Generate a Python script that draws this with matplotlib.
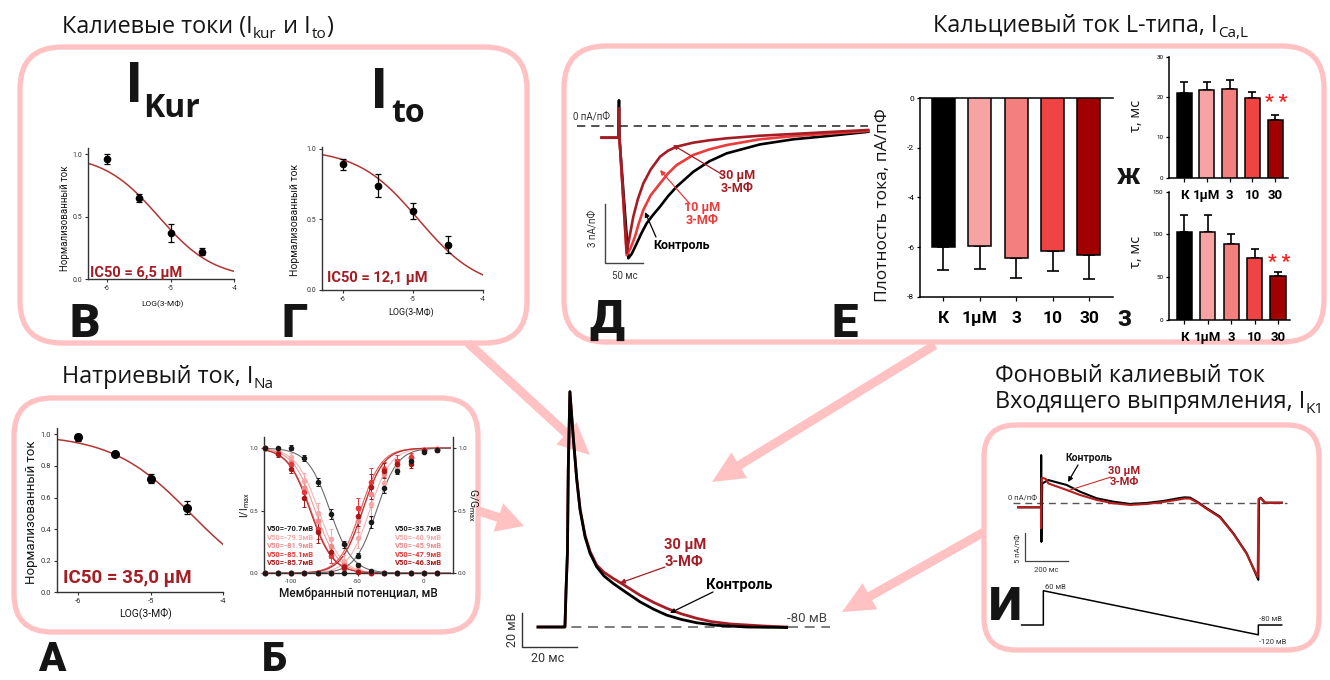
import numpy as np
import matplotlib
matplotlib.use("Agg")
import matplotlib.pyplot as plt
from matplotlib.patches import FancyBboxPatch, FancyArrow

plt.rcParams['font.family'] = ['Roboto', 'DejaVu Sans']
plt.rcParams['axes.unicode_minus'] = False
plt.rcParams['mathtext.fontset'] = 'custom'
plt.rcParams['mathtext.rm'] = 'Roboto'
plt.rcParams['mathtext.it'] = 'Roboto:italic'
plt.rcParams['mathtext.bf'] = 'Roboto:bold'

# ======================= DATA =======================
# concentration-response curves (log10 of [3-МФ], M)
dose_log = [-6.0, -5.5, -5.0, -4.5]
kur_val = [0.96, 0.65, 0.37, 0.22]
kur_err = [0.04, 0.03, 0.07, 0.03]
kur_ic50_uM = 6.5
kur_hill = 1.0
to_val = [0.89, 0.74, 0.56, 0.32]
to_err = [0.04, 0.08, 0.06, 0.06]
to_ic50_uM = 12.1
to_hill = 1.0
na_val = [0.98, 0.875, 0.72, 0.535]
na_err = [0.02, 0.015, 0.03, 0.04]
na_ic50_uM = 35.0
na_hill = 0.8

# Panel Б: steady-state inactivation / activation of I_Na
b_volt = [-120, -110, -100, -90, -80, -70, -60, -50, -40, -30, -20, -10, 0, 10]
b_groups = ['Контроль', '1 µM', '3 µM', '10 µM', '30 µM']
b_inact = [
    [1.00, 1.00, 1.00, 0.92, 0.73, 0.47, 0.23, 0.07, 0.02, 0, 0, 0, 0, 0],
    [1.00, 0.98, 0.93, 0.74, 0.48, 0.27, 0.10, 0.03, 0.01, 0, 0, 0, 0, 0],
    [1.00, 0.97, 0.89, 0.68, 0.42, 0.22, 0.07, 0.02, 0.00, 0, 0, 0, 0, 0],
    [1.00, 0.96, 0.87, 0.65, 0.35, 0.14, 0.04, 0.01, 0.00, 0, 0, 0, 0, 0],
    [1.00, 0.95, 0.83, 0.60, 0.33, 0.17, 0.05, 0.01, 0.00, 0, 0, 0, 0, 0],
]
b_inact_err = [
    [0, 0, 0.02, 0.02, 0.03, 0.04, 0.03, 0.01, 0, 0, 0, 0, 0, 0],
    [0, 0.02, 0.03, 0.06, 0.08, 0.08, 0.05, 0.02, 0, 0, 0, 0, 0, 0],
    [0, 0.02, 0.03, 0.05, 0.07, 0.07, 0.04, 0.02, 0, 0, 0, 0, 0, 0],
    [0, 0.02, 0.03, 0.05, 0.08, 0.06, 0.03, 0.01, 0, 0, 0, 0, 0, 0],
    [0, 0.02, 0.03, 0.07, 0.09, 0.05, 0.03, 0.01, 0, 0, 0, 0, 0, 0],
]
b_act = [
    [0, 0, 0, 0, 0, 0, 0.00, 0.14, 0.41, 0.68, 0.82, 0.90, 0.97, 0.98],
    [0, 0, 0, 0, 0, 0, 0.02, 0.28, 0.55, 0.72, 0.85, 0.92, 0.99, 0.99],
    [0, 0, 0, 0, 0, 0, 0.04, 0.42, 0.63, 0.79, 0.87, 0.92, 0.98, 0.99],
    [0, 0, 0, 0, 0, 0, 0.06, 0.52, 0.73, 0.83, 0.90, 0.93, 0.98, 0.99],
    [0, 0, 0, 0, 0, 0, 0.05, 0.46, 0.69, 0.82, 0.87, 0.87, 0.98, 0.98],
]
b_act_err = [
    [0, 0, 0, 0, 0, 0, 0, 0.02, 0.05, 0.04, 0.03, 0.03, 0.01, 0.01],
    [0, 0, 0, 0, 0, 0, 0.01, 0.08, 0.10, 0.07, 0.05, 0.03, 0.01, 0.01],
    [0, 0, 0, 0, 0, 0, 0.01, 0.09, 0.10, 0.07, 0.04, 0.03, 0.01, 0.01],
    [0, 0, 0, 0, 0, 0, 0.01, 0.08, 0.11, 0.06, 0.04, 0.03, 0.01, 0.01],
    [0, 0, 0, 0, 0, 0, 0.01, 0.08, 0.10, 0.06, 0.04, 0.03, 0.01, 0.01],
]
b_v50_inact = [-70.7, -79.3, -81.9, -85.1, -85.7]
b_v50_act = [-35.7, -40.9, -45.9, -47.9, -46.3]
b_slope_inact = 8.5
b_slope_act = 8.0

# Bar charts (I_Ca,L)
conc_labels = ['К', '1µM', '3', '10', '30']
dens_val = [-5.98, -5.94, -6.45, -6.14, -6.32]
dens_err = [0.94, 0.94, 0.78, 0.81, 0.98]
tau_fast_val = [21.1, 21.7, 22.1, 19.7, 14.2]
tau_fast_err = [2.7, 2.1, 2.1, 1.5, 1.4]
tau_slow_val = [102.5, 102.5, 88.4, 72.1, 51.4]
tau_slow_err = [20.2, 20.2, 11.7, 10.9, 4.3]

# Action potential (ms, mV)
ap_ctrl_t = [0, 9.8, 10.2, 10.7, 11.0, 11.6, 12.8, 14.1, 15.3, 17.1, 18.9, 21.3, 24.0, 27.3, 31.0,
             37.0, 42.0, 46.8, 52.0, 57.7, 65.0, 75.9, 90.4]
ap_ctrl_v = [-80, -80, -58, -36.6, 12.4, 58.4, 32, 6.5, -11.2, -26.9, -36.6, -44.5, -50.0, -54.3, -58.5,
             -65.1, -69.5, -73.0, -75.5, -77.5, -79.0, -80.0, -80.3]
ap_drug_t = [0, 9.8, 10.2, 10.7, 11.0, 11.6, 12.8, 14.1, 15.3, 17.1, 18.9, 21.3, 24.0, 27.3, 31.0,
             37.0, 42.0, 46.8, 52.0, 57.7, 63.0, 69.8, 81.9, 90.4]
ap_drug_v = [-80, -80, -58, -36.6, 12.4, 58.4, 32, 7.0, -10.5, -26.0, -35.5, -43.5, -47.8, -51.4, -55.0,
             -61.2, -65.5, -69.0, -72.2, -74.9, -76.8, -78.2, -79.4, -80.0]

# I_Ca,L traces (ms, pA/pF)
ca_ctrl_t = [-23, -1, 0, 0.6, 12.4, 17, 23.5, 30, 36.8, 45, 54.5, 65, 76.6, 98.7, 120, 143, 187, 231.5, 275.8, 331]
ca_ctrl_i = [-0.59, -0.59, 1.3, -0.6, -6.68, -6.45, -5.93, -5.4, -4.91, -4.5, -4.07, -3.55, -3.06, -2.31,
             -1.78, -1.38, -0.93, -0.67, -0.51, -0.29]
ca_10_t = [-23, -1, 0.6, 10.2, 15, 21.2, 26, 32.3, 42, 54.5, 65, 76.6, 98.7, 120, 143, 187, 231.5, 280, 331]
ca_10_i = [-0.59, -0.59, -0.6, -6.52, -6.2, -5.59, -4.95, -4.24, -3.5, -2.90, -2.4, -1.97, -1.46, -1.18,
           -0.96, -0.67, -0.51, -0.38, -0.25]
ca_30_t = [-23, -1, 0, 0.6, 10.2, 14, 19.0, 25, 32.3, 42, 54.5, 65, 76.6, 98.7, 120, 143, 187, 231.5, 280, 331]
ca_30_i = [-0.59, -0.59, 0.9, -0.6, -6.4, -5.6, -4.58, -3.7, -2.9, -2.2, -1.55, -1.25, -1.04, -0.84,
           -0.72, -0.62, -0.49, -0.40, -0.30, -0.20]

# I_K1 ramp traces (ms, pA/pF) and voltage protocol (ms, mV)
k1_ctrl_t = [-119, -14, -13, -12, -8, 20, 104.6, 166, 243, 320, 397, 474, 551, 628, 650, 674, 710, 751,
             812, 874, 935, 989, 992, 1000, 1020, 1097]
k1_ctrl_i = [-0.71, -0.71, 8.5, -6.8, 3.5, 4.1, 3.23, 2.05, 0.88, 0.29, -0.12, 0.06, 0.41, 0.94, 1.05, 1.0,
             0.2, -0.88, -2.35, -5.3, -8.8, -13.5, 0.6, 1.0, 0.1, 0.1]
k1_drug_t = [-119, -14, -13, -11, -9, 8, 20, 104.6, 166, 243, 320, 397, 474, 551, 628, 650, 674, 710, 751,
             812, 874, 935, 986, 990, 1000, 1020, 1097]
k1_drug_i = [-0.71, -0.71, -4.4, 4.4, 4.5, 4.3, 3.5, 2.35, 1.47, 0.59, 0.0, -0.29, -0.12, 0.23, 0.7, 0.85,
             0.82, 0.1, -1.0, -2.5, -5.4, -8.9, -13.0, 0.8, 0.9, 0.1, 0.1]
ramp_t = [-103, -3, -3, 989, 989, 1097]
ramp_v = [-80, -80, 60, -120, -80, -80]

# ======================= STYLE =======================
PINK = '#ffc1c1'
DARKRED = '#a51d24'
RED = '#ec3b3b'
FIT = '#b23434'
TXT = '#151515'
bar_colors = ['#000000', '#f7a3a3', '#f47f7f', '#ef4444', '#a00000']
b_colors = ['#1a1a1a', '#f5aaaa', '#f08a8a', '#e63a3a', '#a81818']
b_line_colors = ['#6a6a6a', '#f5b5b5', '#f09a9a', '#ea5a5a', '#b03030']
TITLE = ['Open Sans', 'DejaVu Sans']
COND = ['Liberation Sans Narrow', 'Roboto', 'DejaVu Sans']
REG = ['Roboto', 'DejaVu Sans']
TFS = 16.8

W, H = 1330, 680
fig = plt.figure(figsize=(W / 100, H / 100), dpi=100)
fig.patch.set_facecolor('white')
renderer = fig.canvas.get_renderer()


def px_axes(x0, y0, x1, y1, z=2):
    ax = fig.add_axes([x0 / W, 1 - y1 / H, (x1 - x0) / W, (y1 - y0) / H])
    ax.set_zorder(z)
    ax.patch.set_alpha(0)
    return ax


bg = px_axes(0, 0, W, H, z=0)
bg.set_xlim(0, W); bg.set_ylim(H, 0); bg.axis('off')
fg = px_axes(0, 0, W, H, z=10)
fg.set_xlim(0, W); fg.set_ylim(H, 0); fg.axis('off')

# ---------- pink frames and arrows ----------
frames = [(20, 47, 527, 343, 42), (564, 46, 1324, 342, 42),
          (14, 398, 478, 632, 38), (984, 425, 1319, 650, 32)]
for x0, y0, x1, y1, r in frames:
    bg.add_patch(FancyBboxPatch((x0, y0), x1 - x0, y1 - y0,
                                boxstyle=f'round,pad=0,rounding_size={r}',
                                fc='none', ec=PINK, lw=3.8))
arrows = [((468, 343), (590, 455), 32), ((935, 345), (712, 482), 32),
          ((479, 511), (524, 526), 27), ((984, 532), (842, 612), 32)]
for (xa, ya), (xb, yb), hl in arrows:
    bg.add_patch(FancyArrow(xa, ya, xb - xa, yb - ya, width=9, head_width=30,
                            head_length=hl, length_includes_head=True,
                            fc=PINK, ec='none'))


def T(x, y, s, size, **kw):
    kw.setdefault('color', TXT)
    return fg.text(x, y, s, fontsize=size, **kw)


def rich(x, y, pieces, color=TXT, family=TITLE, weight='normal'):
    for s, size, dy in pieces:
        t = fg.text(x, y + dy, s, fontsize=size, ha='left', va='baseline',
                    color=color, family=family, weight=weight)
        x = x + t.get_window_extent(renderer).width + 0.5


# ---------- titles ----------
rich(62, 33, [("Калиевые токи (I", TFS, 0), ("kur", 11, 5), (" и I", TFS, 0), ("to", 11, 5), (")", TFS, 0)])
rich(933, 32, [("Кальциевый ток L-типа, I", TFS, 0), ("Ca,L", 11, 5)])
rich(62, 383, [("Натриевый ток, I", TFS, 0), ("Na", 11, 5)])
T(995, 382, "Фоновый калиевый ток", TFS, family=TITLE, va='baseline')
rich(995, 408, [("Входящего выпрямления, I", TFS, 0), ("K1", 11, 5)])

# big current names
T(125, 102, "I", 40, family=TITLE, weight='bold', va='baseline')
T(143, 117, "Kur", 23, family=TITLE, weight='bold', va='baseline')
T(370, 108, "I", 40, family=TITLE, weight='bold', va='baseline')
T(391, 122, "to", 23, family=TITLE, weight='bold', va='baseline')

# panel letters
HEAVY = dict(family=REG, weight='black', va='baseline', ha='left')
for s, x, y, sz in [("В", 69, 337, 34), ("Г", 281, 337, 34), ("Д", 589, 333, 34),
                    ("Е", 831, 337, 34), ("Ж", 1117, 184, 16), ("З", 1117, 326, 16),
                    ("А", 38, 671, 29), ("Б", 262, 671, 29), ("И", 989, 620, 34)]:
    T(x, y, s, sz, **HEAVY)


# ---------- dose-response panels ----------
def dose_panel(box, val, err, ic50, hill, ytop, yticks, ms, fs_tick):
    ax = px_axes(*box)
    lo = -6.3
    xx = np.linspace(lo, -4, 200)
    yy = 1.0 / (1.0 + 10 ** (hill * (xx - np.log10(ic50 * 1e-6))))
    ax.plot(xx, yy, color=FIT, lw=1.1, zorder=2)
    ax.errorbar(dose_log, val, yerr=err, fmt='o', color='black', ms=ms,
                elinewidth=0.9, capsize=2.2, capthick=0.9, zorder=3)
    ax.set_xlim(lo, -4)
    ax.set_ylim(0, ytop)
    ax.set_xticks([-6, -5, -4])
    ax.set_xticklabels(['-6', '-5', '-4'])
    ax.set_yticks(yticks)
    ax.set_yticklabels([f'{v:.1f}' for v in yticks])
    for s in ['top', 'right']:
        ax.spines[s].set_visible(False)
    for s in ['left', 'bottom']:
        ax.spines[s].set_linewidth(1.0)
        ax.spines[s].set_color('#333333')
    ax.tick_params(labelsize=fs_tick, length=2.5, width=0.8, pad=1.5, colors='#333333')
    return ax


dose_panel((87.7, 148, 234.3, 279), kur_val, kur_err, kur_ic50_uM, kur_hill, 1.05, [0, 0.5, 1.0], 4.5, 5)
dose_panel((321.7, 146.7, 482.7, 290), to_val, to_err, to_ic50_uM, to_hill, 1.016, [0, 0.5, 1.0], 4.5, 5)
dose_panel((56.7, 428, 223.3, 592.3), na_val, na_err, na_ic50_uM, na_hill, 1.04,
           [0, 0.2, 0.4, 0.6, 0.8, 1.0], 5.5, 5.5)

T(65, 218, "Нормализованный ток", 7, rotation=90, ha='center', va='center', family=REG)
T(295, 220, "Нормализованный ток", 7.5, rotation=90, ha='center', va='center', family=REG)
T(32, 512, "Нормализованный ток", 9.5, rotation=90, ha='center', va='center', family=REG)
T(162, 304, "LOG(3-МФ)", 6, ha='center', va='center', family=REG)
T(411, 312, "LOG(3-МФ)", 6.5, ha='center', va='center', family=REG)
T(146, 613, "LOG(3-МФ)", 7.5, ha='center', va='center', family=REG)
T(90, 273, f"IC50 = {kur_ic50_uM:.1f} µM".replace('.', ','), 10.5, color=DARKRED,
  weight='bold', family=COND, va='center')
T(327, 278, f"IC50 = {to_ic50_uM:.1f} µM".replace('.', ','), 10.5, color=DARKRED,
  weight='bold', family=COND, va='center')
T(63, 578, f"IC50 = {na_ic50_uM:.1f} µM".replace('.', ','), 13.5, color=DARKRED,
  weight='bold', family=COND, va='center')

# ---------- Panel Б ----------
axb = px_axes(264, 436.7, 452.5, 573.3)
vv = np.linspace(-120, 20, 300)
for g in [1, 2, 3, 4, 0]:
    inact = 1.0 / (1.0 + np.exp((vv - b_v50_inact[g]) / b_slope_inact))
    act = 1.0 / (1.0 + np.exp((b_v50_act[g] - vv) / b_slope_act))
    axb.plot(vv, inact, color=b_line_colors[g], lw=0.8, zorder=2)
    axb.plot(vv, act, color=b_line_colors[g], lw=0.8, zorder=2)
    for vals, errs in [(b_inact[g], b_inact_err[g]), (b_act[g], b_act_err[g])]:
        axb.errorbar(b_volt, vals, yerr=errs, fmt='o', ms=3, color=b_colors[g],
                     elinewidth=0.7, capsize=1.5, capthick=0.7, zorder=3, clip_on=False)
axb.set_xlim(-120.5, 21.6)
axb.set_ylim(0, 1.09)
axb.set_xticks([-100, -50, 0])
axb.set_yticks([0, 0.5, 1.0])
axb.set_yticklabels(['0.0', '0.5', '1.0'])
axb.spines['top'].set_visible(False)
for s in ['left', 'right', 'bottom']:
    axb.spines[s].set_linewidth(1.0)
    axb.spines[s].set_color('#333333')
axb.tick_params(labelsize=4.5, length=2.5, width=0.8, pad=1.5, colors='#333333',
                right=True, labelright=True)
T(245, 505, r"I/I$_{\mathregular{max}}$", 7.5, rotation=90, ha='center', va='center')
T(473, 505, r"G/G$_{\mathregular{max}}$", 7.5, rotation=270, ha='center', va='center')
T(358, 594, "Мембранный потенциал, мВ", 8.5, ha='center', va='center', weight='medium')
rows_y = [528.3, 537.3, 546, 554.3, 562.7]
for g in range(5):
    T(266.5, rows_y[g], f"V50={b_v50_inact[g]:.1f}мВ", 5.5, color=b_colors[g],
      weight='bold', va='center', family=COND)
    T(395, rows_y[g], f"V50={b_v50_act[g]:.1f}мВ", 5.5, color=b_colors[g],
      weight='bold', va='center', family=COND)


# ---------- bar charts ----------
def bar_panel(box, vals, errs, width, xlim, ylim, yticks, down, capsize, xfs, yfs, xpad, spines):
    ax = px_axes(*box)
    x = np.arange(len(vals))
    zeros = [0] * len(vals)
    ax.bar(x, vals, width, color=bar_colors, edgecolor='black', linewidth=1.1, zorder=3)
    yerr = [errs, zeros] if down else [zeros, errs]
    ax.errorbar(x, vals, yerr=yerr, fmt='none', ecolor='black', elinewidth=1.2,
                capsize=capsize, capthick=1.2, zorder=2)
    ax.set_xlim(*xlim)
    ax.set_ylim(*ylim)
    ax.set_xticks(x)
    ax.set_xticklabels(conc_labels, fontsize=xfs, fontweight='bold', family=COND)
    ax.set_yticks(yticks)
    ax.set_yticklabels([str(v) for v in yticks])
    for s in ['top', 'right', 'left', 'bottom']:
        ax.spines[s].set_visible(s in spines)
        ax.spines[s].set_linewidth(1.1)
    ax.tick_params(axis='y', labelsize=yfs, length=2.5, width=0.9, pad=1.5)
    ax.tick_params(axis='x', length=3, width=0.9, pad=xpad, top=False)
    return ax


bar_panel((920, 98.3, 1113, 296.7), dens_val, dens_err, 0.63, (-0.64, 4.66), (-8, 0),
          [0, -2, -4, -6, -8], True, 4.5, 12.5, 6, 7, ['top', 'left', 'bottom'])
bar_panel((1169, 56.7, 1288, 177.7), tau_fast_val, tau_fast_err, 0.66, (-0.66, 4.57), (0, 30),
          [0, 10, 20, 30], False, 2.6, 9.5, 4.5, 5, ['left', 'bottom'])
bar_panel((1169, 191.7, 1290, 320), tau_slow_val, tau_slow_err, 0.64, (-0.64, 4.51), (0, 150),
          [0, 50, 100, 150], False, 2.6, 9.5, 4.5, 5, ['left', 'bottom'])
T(883, 205, "Плотность тока, пА/пФ", 12.5, rotation=90, ha='center', va='center', family=TITLE)
T(1136, 116, "τ, мс", 10.5, rotation=90, ha='center', va='center', family=TITLE)
T(1136, 252, "τ, мс", 10.5, rotation=90, ha='center', va='center', family=TITLE)
T(1276, 102, "* *", 14, color='#ff1a1a', weight='bold', ha='center', va='center', family=REG)
T(1279, 262, "* *", 14, color='#ff1a1a', weight='bold', ha='center', va='center', family=REG)

# ---------- Panel Д: I_Ca,L traces ----------
axD = px_axes(570, 90, 875, 285)
axD.set_xlim(-65.07, 339.97); axD.set_ylim(-8.03, 1.82); axD.axis('off')
axD.plot([-55.8, 330.7], [0, 0], color='#333333', lw=1.2, dashes=(5, 3.5))
axD.plot(ca_ctrl_t, ca_ctrl_i, color='black', lw=1.9, solid_joinstyle='round')
axD.plot(ca_10_t, ca_10_i, color=RED, lw=1.9, solid_joinstyle='round')
axD.plot(ca_30_t, ca_30_i, color=DARKRED, lw=1.9, solid_joinstyle='round')
axD.plot([-18.6, -18.6, 31.4], [-3.94, -6.94, -6.94], color='#444444', lw=1.0)
T(573, 117, "0 пА/пФ", 7, va='center', ha='left', color='#333333')
T(593, 228, "3 пА/пФ", 7, rotation=90, ha='center', va='center', color='#333333')
T(625, 276, "50 мс", 7, ha='center', va='center', color='#333333')
T(737, 176, "30 µM", 9, color=DARKRED, weight='bold', ha='center', va='center', family=COND)
T(737, 188, "3-МФ", 9, color=DARKRED, weight='bold', ha='center', va='center', family=COND)
T(702, 208, "10 µM", 9, color=RED, weight='bold', ha='center', va='center', family=COND)
T(702, 221, "3-МФ", 9, color=RED, weight='bold', ha='center', va='center', family=COND)
T(682, 246, "Контроль", 9, color='black', weight='bold', ha='center', va='center', family=COND)


def thin_arrow(tail, head, color):
    fg.annotate('', xy=head, xytext=tail,
                arrowprops=dict(arrowstyle='-|>', color=color, lw=0.9,
                                mutation_scale=7, shrinkA=0, shrinkB=0))


thin_arrow((723, 175), (673, 145), DARKRED)
thin_arrow((690, 204), (660, 170), RED)
thin_arrow((656, 237), (645, 212), 'black')

# ---------- Action potential ----------
axAP = px_axes(500, 380, 840, 670)
axAP.set_xlim(-13.82, 109.82); axAP.set_ylim(-105.29, 65.29); axAP.axis('off')
axAP.plot([0, 106.2], [-80, -80], color='#666666', lw=1.2, dashes=(6, 4))
axAP.plot(ap_drug_t, ap_drug_v, color=DARKRED, lw=2.0, solid_joinstyle='round')
axAP.plot(ap_ctrl_t, ap_ctrl_v, color='black', lw=2.0, solid_joinstyle='round')
axAP.plot([-5.8, -5.8, 14.2], [-71.8, -91.8, -91.8], color='#333333', lw=1.0)
T(512, 630, "20 мВ", 9, rotation=90, ha='center', va='center', color='#333333')
T(548, 658, "20 мс", 9, ha='center', va='center', color='#333333')
T(807, 618, "-80 мВ", 9.5, ha='center', va='center', color='#444444')
T(685, 545, "30 µM", 10.5, color=DARKRED, weight='bold', ha='center', va='center', family=COND)
T(684, 562, "3-МФ", 10.5, color=DARKRED, weight='bold', ha='center', va='center', family=COND)
T(739, 585, "Контроль", 10.5, color='black', weight='bold', ha='center', va='center', family=COND)
thin_arrow((665, 567), (620, 583), DARKRED)
thin_arrow((713, 592), (670, 613), 'black')

# ---------- Panel И: I_K1 ramp ----------
axK = px_axes(1000, 440, 1300, 600)
axK.set_xlim(-203.0, 1181.3); axK.set_ylim(-17.05, 11.16); axK.axis('off')
axK.plot([-143, 1121], [0, 0], color='#555555', lw=1.0, dashes=(5, 3.5))
axK.plot(k1_ctrl_t, k1_ctrl_i, color='black', lw=1.5, solid_joinstyle='round')
axK.plot(k1_drug_t, k1_drug_i, color='#b81e1e', lw=1.5, solid_joinstyle='round')
axK.plot([-87.7, -87.7, 112.3], [-5.24, -10.23, -10.23], color='#444444', lw=0.9)
axR = px_axes(1000, 580, 1300, 650)
axR.set_xlim(-203.0, 1181.3); axR.set_ylim(-182.0, 103.7); axR.axis('off')
axR.plot(ramp_t, ramp_v, color='black', lw=1.1)
T(1008, 498, "0 пА/пФ", 5.5, ha='left', va='center', color='#333333')
T(1018, 548, "5 пА/пФ", 5.5, rotation=90, ha='center', va='center', color='#333333')
T(1046, 570, "200 мс", 5.5, ha='center', va='center', color='#333333')
T(1045, 587, "60 мВ", 5.5, ha='left', va='center', color='#333333')
T(1259, 619, "-80 мВ", 5.5, ha='left', va='center', color='#333333')
T(1259, 642, "-120 мВ", 5.5, ha='left', va='center', color='#333333')
T(1089, 458, "Контроль", 7.5, weight='bold', ha='center', va='center', family=COND)
T(1124, 471, "30 µM", 8, color=DARKRED, weight='bold', ha='center', va='center', family=COND)
T(1124, 482, "3-МФ", 8, color=DARKRED, weight='bold', ha='center', va='center', family=COND)
thin_arrow((1078, 465), (1068, 482), 'black')
fg.plot([1111, 1070], [477, 490], color='#c83030', lw=0.8)

fig.savefig('out.png', dpi=100, facecolor='white')
